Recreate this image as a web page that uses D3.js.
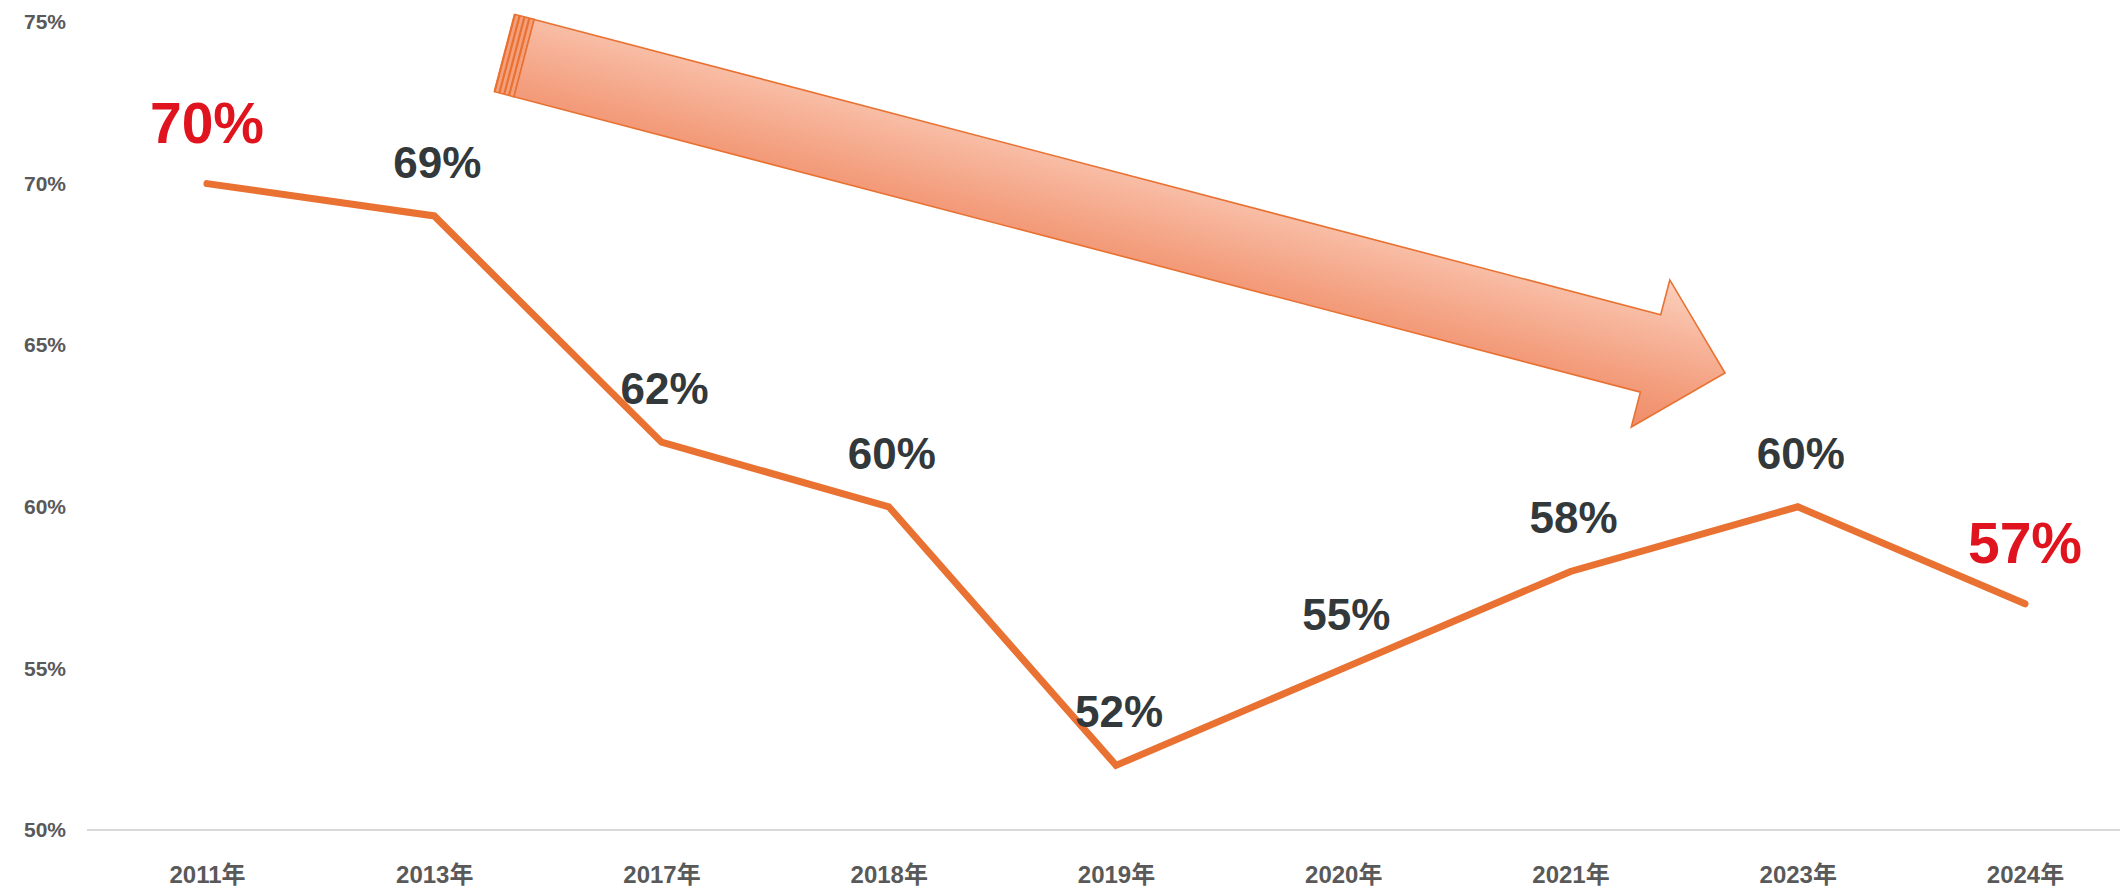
<!DOCTYPE html>
<html>
<head>
<meta charset="utf-8">
<script src="https://cdn.jsdelivr.net/npm/d3@7"></script>
<style>
  html, body { margin: 0; padding: 0; background: #ffffff; }
  svg { display: block; }
</style>
</head>
<body>
<svg id="chart" width="2124" height="891"></svg>
<script>
// Survey years and the share for each year (percent)
const categories = ["2011年", "2013年", "2017年", "2018年", "2019年", "2020年", "2021年", "2023年", "2024年"];
const rates = [70, 69, 62, 60, 52, 55, 58, 60, 57];
const yTicks = [50, 55, 60, 65, 70, 75];

const svg = d3.select("#chart");
const W = 2124, H = 891;

svg.append("rect").attr("width", W).attr("height", H).attr("fill", "#ffffff");

const x = d3.scalePoint().domain(categories).range([207, 2025]);
const y = d3.scaleLinear().domain([50, 75]).range([830, 22]);
// continuous index scale, used to place the trend arrow between categories
const xi = d3.scaleLinear().domain([0, categories.length - 1]).range(x.range());

const axisFont = "'Liberation Sans', Arial, 'Noto Sans CJK SC', sans-serif";

// ---- y axis (labels only) ----
const yAxis = svg.append("g")
  .attr("transform", "translate(66,0)")
  .call(d3.axisLeft(y).tickValues(yTicks).tickFormat(d => d + "%").tickSize(0).tickPadding(0));
yAxis.select(".domain").remove();
yAxis.selectAll("text")
  .attr("font-family", axisFont)
  .attr("font-size", 21)
  .attr("font-weight", "bold")
  .attr("fill", "#595959");

// ---- x axis baseline + labels ----
svg.append("line")
  .attr("x1", 87).attr("x2", 2120)
  .attr("y1", y(50)).attr("y2", y(50))
  .attr("stroke", "#d9d9d9").attr("stroke-width", 2);

const xAxis = svg.append("g")
  .attr("transform", `translate(0,${y(50)})`)
  .call(d3.axisBottom(x).tickSize(0));
xAxis.select(".domain").remove();
xAxis.selectAll("text")
  .attr("y", 53).attr("dy", null)
  .attr("font-family", axisFont)
  .attr("font-size", 24)
  .attr("font-weight", "bold")
  .attr("fill", "#595959");

// ---- downward trend arrow (striped block arrow) ----
const defs = svg.append("defs");
const grad = defs.append("linearGradient")
  .attr("id", "arrowFill")
  .attr("x1", 0).attr("y1", 0).attr("x2", 0).attr("y2", 1);
grad.append("stop").attr("offset", "0%").attr("stop-color", "#fbd0bd");
grad.append("stop").attr("offset", "35%").attr("stop-color", "#f7b59b");
grad.append("stop").attr("offset", "70%").attr("stop-color", "#f39d7c");
grad.append("stop").attr("offset", "100%").attr("stop-color", "#f08c68");

const tail = [xi(1.31), y(74.04)];
const tip = [xi(6.68), y(64.14)];
const len = Math.hypot(tip[0] - tail[0], tip[1] - tail[1]);
const ang = Math.atan2(tip[1] - tail[1], tip[0] - tail[0]) * 180 / Math.PI;
const bodyHalf = 40, headHalf = 76, headLen = 77, bodyStart = 20;

const arrow = svg.append("g")
  .attr("transform", `translate(${tail[0]},${tail[1]}) rotate(${ang})`);

const arrowStroke = "#e97132";
// tail block with stripes
arrow.append("rect")
  .attr("x", 0).attr("y", -bodyHalf)
  .attr("width", bodyStart).attr("height", bodyHalf * 2)
  .attr("fill", "#f4a07d")
  .attr("stroke", arrowStroke).attr("stroke-width", 1.5);
[0, 5, 10, 15].forEach(s => {
  arrow.append("line")
    .attr("x1", s).attr("x2", s)
    .attr("y1", -bodyHalf).attr("y2", bodyHalf)
    .attr("stroke", arrowStroke).attr("stroke-width", 2.2);
});
const hb = len - headLen;
const arrowPts = [
  [bodyStart, -bodyHalf], [hb, -bodyHalf], [hb, -headHalf], [len, 0],
  [hb, headHalf], [hb, bodyHalf], [bodyStart, bodyHalf]
];
arrow.append("path")
  .attr("d", d3.line()(arrowPts) + "Z")
  .attr("fill", "url(#arrowFill)")
  .attr("stroke", arrowStroke)
  .attr("stroke-width", 1.6)
  .attr("stroke-linejoin", "miter");

// ---- the series line ----
const line = d3.line()
  .x((d, i) => x(categories[i]))
  .y(d => y(d));

svg.append("path")
  .datum(rates)
  .attr("d", line)
  .attr("fill", "none")
  .attr("stroke", "#e97132")
  .attr("stroke-width", 7)
  .attr("stroke-linejoin", "miter")
  .attr("stroke-linecap", "round");

// ---- value labels (first and last year highlighted in red) ----
const last = rates.length - 1;
const isEnd = i => i === 0 || i === last;
svg.append("g").selectAll("text")
  .data(rates)
  .join("text")
  .attr("x", (d, i) => x(categories[i]) + (isEnd(i) ? 0 : 3))
  .attr("y", (d, i) => y(d) - (isEnd(i) ? 41 : 38))
  .attr("text-anchor", "middle")
  .attr("font-family", "'Liberation Sans', Arial, sans-serif")
  .attr("font-weight", "bold")
  .attr("font-size", (d, i) => isEnd(i) ? 57 : 44)
  .attr("fill", (d, i) => isEnd(i) ? "#e0141e" : "#33383b")
  .text(d => d + "%");
</script>
</body>
</html>
